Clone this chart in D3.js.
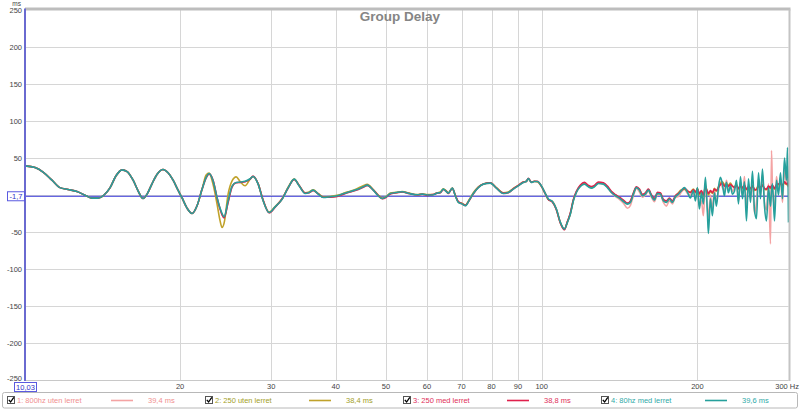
<!DOCTYPE html>
<html><head><meta charset="utf-8">
<script src="https://cdn.jsdelivr.net/npm/d3@7"></script>
<style>body{margin:0;background:#fff}svg{display:block;font-family:"Liberation Sans",Arial,sans-serif}</style>
</head><body><svg id="c" width="800" height="410"></svg>
<script>
// ---- data ----
const freqLow = [10.03,10.49,10.87,11.31,11.72,12.15,12.64,13.16,13.52,13.88,
  14.26,14.65,15.04,15.45,15.80,16.23,16.59,16.96,17.27,17.66,
  18.06,18.54,18.96,19.39,19.82,20.18,20.63,21.10,21.57,22.06];
const delayLow = [39.4,37,31,20,10,7.4,4.7,-1,-4.2,-4.2,
  0,10,26,34,31.7,20,5.7,-4.7,1.2,15.5,
  28,34.4,30,20,6.6,-4,-17.7,-25,-14.6,8];

const freqHigh = [22.46,22.76,23.17,23.58,23.90,24.11,24.33,24.77,25.21,25.67,
  26.13,26.71,27.32,27.68,28.31,28.95,29.73,30.54,31.51,32.36,
  33.24,33.98,34.90,35.53,36.17,36.99,37.82,39.02,40.25,41.16,
  42.08,43.61,45.19,46.00,47.25,48.31,49.18,50.07,50.97,52.35,
  53.76,55.47,57.48,58.78,60.11,61.46,62.84,63.69,64.55,65.41,
  66.00,67.19,68.09,69.01,70.25,71.19,72.47,73.78,75.44,77.14,
  79.57,81.73,84.32,86.22,88.16,90.12,92.15,93.39,94.22,95.49,
  96.78,98.08,99.87,101.66,103.03,104.88,106.77,108.69,110.64,112.13,
  113.64,115.16,116.71,118.81,120.95,123.12,124.78,126.46,128.73,131.63,
  133.99,136.40,138.85,141.35,143.89,146.48,148.45,150.44,152.47,154.52,
  156.60,158.65,160.79,162.95,165.14,167.36,169.61,171.90,174.21,176.55,
  178.93,181.33,183.77,186.24,188.75,191.29,193.86,196.47,198.23,200.00,
  201.79,203.59,205.42,207.25,209.10,210.04,211.92,213.82,215.73,217.66,
  219.61,221.57,223.56,225.56,227.57,229.61,231.66,233.72,235.87,237.98,
  240.11,242.26,244.43,246.61,248.82,251.05,253.29,255.56,257.84,260.15,
  262.48,264.83,267.20,269.59,272.00,274.43,276.89,278.13,279.37,281.87,
  284.39,286.93,289.50,292.09,294.70,297.34,298.67,300];

const s1High = [23,28.5,19.5,-4,-19,-26.5,-30.5,-9.5,11,16.5,
  17,18,21.5,25,15,-7,-24,-16,-5,10,
  21,12.5,2.5,3,6,1.5,-3,-2.5,-1.5,1,
  3,6.5,11,13,6.5,-1,-5,-2.5,2,3,
  4,2,0,1,0,0,2.5,3,7.5,4.5,
  2.5,9,-1,-9.5,-12,-14,-7,2,10,14.5,
  16,9.5,2,3.5,8,12.5,17,18,22,17,
  18,18,12,1.5,-6,-9,-19.5,-37.5,-46,-36.5,
  -25,-7,4,12.5,15.5,12,10,12,16,15,
  10.5,3,-2,-6,-11,-18,-14,-1,9,4,
  -3,0,5,-3,-9,0,0,-10,-15,-8,
  -12,-3,-2,4,8,2,0,3,-5,8,
  -15,-8,-28,15,-18,-30,0,-20,8,-10,
  5,18,10,5,20,8,14,5,10,15,
  -8,18,0,25,-18,15,-5,20,-25,-10,
  22,0,28,-10,-20,15,-66,60,10,-15,
  25,5,20,-10,35,15,40,10];

const s2High = [27,29.5,14,-12.3,-35,-44,-38,1.2,19,24.5,
  18.2,12.4,21.4,25,15,-7.5,-23,-15.5,-5,10.5,
  21.5,13,3,4,7,2,-2.5,-2,-0.5,1.5,
  4,7.5,12.5,14.5,7.5,0,-4,-2,2.5,3.5,
  4.5,2.5,0.5,1.5,0.5,0.5,3,4,8.5,5.5,
  3,9.5,-0.5,-9.5,-11.5,-13.5,-6,3,11,15,
  16.5,10,3,4,9,13,17.5,18.5,22,17.5,
  18.5,18,12,1.5,-6,-9,-19.5,-37.5,-46.5,-36.5,
  -25,-7,4,12.5,15.5,12,10,12,16.5,15.5,
  11,4,0,-3.5,-8,-11.5,-9,2,10.5,7,
  0,2,7.5,-0.5,-6,2.5,2,-7,-9,-5,
  -9,-2,3,7,8,5,4,8,3,9,
  0,5,-2,12,4,0,5,2,9,5,
  11,16,18,14,15,13,16,12,11,14,
  8,13,9,12,7,10,8,13,6,8,
  13,9,14,8,7,11,9,11,12,8,
  13,14,15,12,17,14,15,11];

const s3High = [23,28.5,19.5,-4,-19,-27,-31,-10,11,16.5,
  17,18,21.5,25.5,15,-7,-24,-16.5,-5,9.5,
  21,13,2.5,3,6,1.5,-3,-3,-2,0.5,
  3,6,10.5,13,7,-0.5,-5,-3,1.5,3,
  4,2,0,1,-0.5,0.5,2.5,3,7.5,5,
  2,9,-0.5,-9,-12,-14,-7,1.5,10.5,15,
  16.5,9.5,2.5,3,8.5,13,17.5,18.5,22.5,17.5,
  18.5,18.5,12,1.5,-6,-9.5,-20,-38,-47,-36,
  -24,-6,5,13.5,17,13,11.5,13,17.5,16.5,
  12,5,0.5,-3,-7,-11,-8,3,11,8,
  1,3,8,0.5,-5,3.5,3,-6,-8,-4,
  -8,-1,2,6,9,6,3,7,4,8,
  2,6,0,10,5,2,6,3,8,6,
  10,14,16,12,14,12,14,12,10,13,
  9,12,10,13,8,11,9,12,8,7,
  12,10,13,9,8,12,10,12,13,9,
  14,15,16,13,18,15,16,12];

const s4High = [23.6,29,19,-3.4,-18,-25,-29.4,-8,12,17,
  17.5,18.5,22,25,14.7,-7.8,-23.6,-16,-5.5,10,
  21.4,12.4,2,3.4,6.6,1.2,-3.4,-2.4,-1,1.2,
  3.4,6.6,11,13.3,6.6,-1,-4.7,-2.4,2,3.4,
  4.3,2,0.3,1.2,0,0,2.6,3.4,8,4.7,
  2.6,9.3,-1,-10,-12.3,-14.6,-6.9,2,10,14.7,
  16,9.3,2,3.4,8,12.4,17,18.2,22.2,17,
  18.2,18.2,12.4,2,-5.5,-8.8,-19,-37,-46,-37,
  -25.7,-7.8,3.4,11.5,14.7,11,9.3,11,15.5,14.7,
  10,3.4,-1,-4.2,-8.8,-12.3,-10,1.2,10,6.6,
  -1,1.2,6.6,-1,-6.9,2,1.2,-7.8,-10,-5.5,
  -10,-2.4,1,6,10,4,-4,6,-8,10,
  -19,3,-12,24,-24,-52,-5,-28,3,-15,
  10,24,15,-1,17,3,12,1,5,20,
  -12,25,-5,18,-35,22,-10,32,-20,-32,
  30,-5,35,-15,-35,10,-15,5,15,-35,
  20,0,30,-5,50,20,64,-37];

const seriesNames = ["1: 800hz uten lerret","2: 250 uten lerret","3: 250 med lerret","4: 80hz med lerret"];
const seriesReadouts = ["39,4 ms","38,4 ms","38,8 ms","39,6 ms"];
const seriesColors = ["#f4a3a3","#c0a22a","#e0204c","#26a09c"];
const legendTextColors = ["#f09090","#a3a028","#e0305a","#30aaa8"];
const yTicks = [250,200,150,100,50,0,-50,-100,-150,-200,-250];
const yTickLabels = ["250","200","150","100","50","","-50","-100","-150","-200","-250"];
const xTicks = [20,30,40,50,60,70,80,90,100,200];
const cursorDelay = -1.7;
const cursorLabel = "-1,7";
const startFreqLabel = "10,03";
const title = "Group Delay";

// ---- drawing ----
const svg = d3.select("#c");
const L = 25, R = 788.5, T = 9.5, B = 380;
const x = d3.scaleLog().domain([10.03, 300]).range([L, R]);
const y = d3.scaleLinear().domain([-250, 250]).range([B, T + 0.5]);

svg.append("rect").attr("width",800).attr("height",410).attr("fill","#fff");

// grid
svg.append("g").selectAll("line").data(yTicks.slice(1)).join("line")
  .attr("x1", L).attr("x2", R).attr("y1", d => Math.round(y(d)) + 0.5).attr("y2", d => Math.round(y(d)) + 0.5)
  .attr("stroke", "#d6d6d6").attr("stroke-width", 1);
svg.append("g").selectAll("line").data(xTicks).join("line")
  .attr("x1", d => Math.round(x(d)) + 0.5).attr("x2", d => Math.round(x(d)) + 0.5)
  .attr("y1", T).attr("y2", B)
  .attr("stroke", "#d6d6d6").attr("stroke-width", 1);

// title
svg.append("text").attr("x", 400).attr("y", 21).attr("text-anchor","middle")
  .attr("font-size", 13.5).attr("font-weight","bold").attr("fill","#858585").text(title);

// cursor line
svg.append("line").attr("x1", L).attr("x2", R).attr("y1", y(cursorDelay)).attr("y2", y(cursorDelay))
  .attr("stroke", "#3434d8").attr("stroke-width", 1);

// curves
svg.append("clipPath").attr("id","clip").append("rect").attr("x",L).attr("y",T).attr("width",R-L+1).attr("height",B-T);
const highs = [s1High, s2High, s3High, s4High];
const line = d3.line().x(d => x(d[0])).y(d => y(d[1])).curve(d3.curveMonotoneX);
const g = svg.append("g").attr("clip-path","url(#clip)");
highs.forEach((h, i) => {
  const pts = freqLow.map((f, k) => [f, delayLow[k]]).concat(freqHigh.map((f, k) => [f, h[k]]));
  g.append("path").attr("d", line(pts)).attr("fill","none")
    .attr("stroke", seriesColors[i]).attr("stroke-width", 1.6).attr("stroke-linejoin","round");
});

// frame
svg.append("line").attr("x1", L).attr("x2", R + 2).attr("y1", T - 0.5).attr("y2", T - 0.5)
  .attr("stroke", "#bdbdbd").attr("stroke-width", 3);
svg.append("line").attr("x1", R + 1).attr("x2", R + 1).attr("y1", T).attr("y2", B + 1)
  .attr("stroke", "#c4c4c4").attr("stroke-width", 2);
svg.append("line").attr("x1", L).attr("x2", R).attr("y1", B + 0.5).attr("y2", B + 0.5)
  .attr("stroke", "#c8c8c8").attr("stroke-width", 1);
svg.append("line").attr("x1", L).attr("x2", L).attr("y1", T - 1).attr("y2", B + 1)
  .attr("stroke", "#6a6ad0").attr("stroke-width", 2);

// y tick labels
svg.append("g").selectAll("text").data(yTicks).join("text")
  .attr("x", 22).attr("y", d => d === -250 ? y(d) + 1 : y(d) + 3).attr("text-anchor","end")
  .attr("font-size", 7.5).attr("fill","#444").text((d, i) => yTickLabels[i]);
svg.append("text").attr("x", 21).attr("y", 6).attr("text-anchor","end")
  .attr("font-size", 6.5).attr("fill","#444").text("ms");

// cursor box
const cy = y(cursorDelay);
svg.append("rect").attr("x", 7.5).attr("y", cy - 4.5).attr("width", 17).attr("height", 9)
  .attr("fill","#fff").attr("stroke","#5a5ae0").attr("stroke-width",1);
svg.append("text").attr("x", 16).attr("y", cy + 3).attr("text-anchor","middle")
  .attr("font-size", 7.5).attr("fill","#3030c8").text(cursorLabel);

// x tick labels
svg.append("g").selectAll("text").data(xTicks).join("text")
  .attr("x", d => x(d)).attr("y", 389).attr("text-anchor","middle")
  .attr("font-size", 7.5).attr("fill","#444").text(d => d);
svg.append("text").attr("x", 799).attr("y", 389).attr("text-anchor","end")
  .attr("font-size", 7.5).attr("fill","#444").text("300 Hz");
svg.append("rect").attr("x", 14.5).attr("y", 382.5).attr("width", 22).attr("height", 9)
  .attr("fill","#fff").attr("stroke","#5a5ae0").attr("stroke-width",1);
svg.append("text").attr("x", 25.5).attr("y", 390).attr("text-anchor","middle")
  .attr("font-size", 7.5).attr("fill","#3030c8").text(startFreqLabel);

// legend
svg.append("rect").attr("x", 2.5).attr("y", 392.5).attr("width", 795).attr("height", 15.5).attr("rx", 2)
  .attr("fill","#fff").attr("stroke","#b8b8b8").attr("stroke-width",1);
const lg = svg.append("g").selectAll("g").data(seriesNames).join("g")
  .attr("transform", (d, i) => `translate(${7 + i * 198},0)`);
lg.append("rect").attr("x", 0.5).attr("y", 396.5).attr("width", 7).attr("height", 7)
  .attr("fill","#fff").attr("stroke","#555").attr("stroke-width",1);
lg.append("path").attr("d","M1.8,399.8 L3.6,402 L6.8,397.4").attr("fill","none").attr("stroke","#000").attr("stroke-width",1.3);
lg.append("text").attr("x", 10).attr("y", 403).attr("font-size", 7.5)
  .attr("fill", (d, i) => legendTextColors[i]).text(d => d);
lg.append("line").attr("x1", 104).attr("x2", 126).attr("y1", 400.5).attr("y2", 400.5)
  .attr("stroke", (d, i) => seriesColors[i]).attr("stroke-width", 1.6);
lg.append("text").attr("x", 141).attr("y", 403).attr("font-size", 7.5)
  .attr("fill", (d, i) => legendTextColors[i]).text((d, i) => seriesReadouts[i]);
</script></body></html>
